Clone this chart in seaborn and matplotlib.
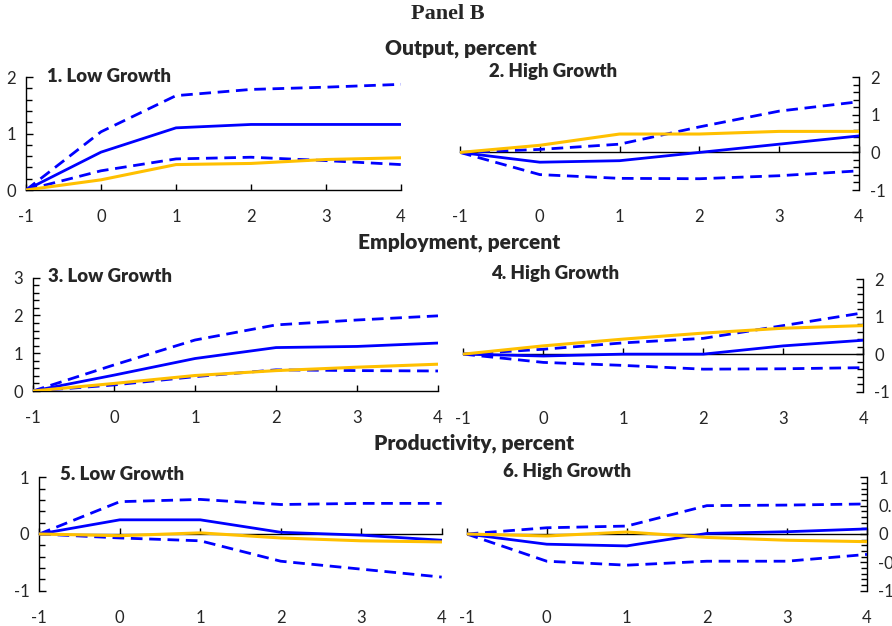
import matplotlib
matplotlib.use("Agg")
import matplotlib.pyplot as plt
import seaborn as sns
from matplotlib.ticker import MultipleLocator

# Horizon (years relative to the shock)
horizon = [-1, 0, 1, 2, 3, 4]
horizon_labels = ["-1", "0", "1", "2", "3", "4"]

# 1. Output, low growth
out_low_est = [0, 0.67, 1.10, 1.16, 1.16, 1.16]
out_low_hi = [0, 1.03, 1.67, 1.78, 1.82, 1.87]
out_low_lo = [0, 0.34, 0.55, 0.58, 0.52, 0.45]
out_low_ref = [0, 0.18, 0.45, 0.47, 0.54, 0.57]

# 2. Output, high growth
out_high_est = [0, -0.26, -0.22, 0.0, 0.22, 0.44]
out_high_hi = [0, 0.08, 0.22, 0.68, 1.10, 1.35]
out_high_lo = [0, -0.59, -0.69, -0.70, -0.62, -0.49]
out_high_ref = [0, 0.19, 0.49, 0.49, 0.56, 0.56]

# 3. Employment, low growth
emp_low_est = [0, 0.42, 0.86, 1.15, 1.18, 1.27]
emp_low_hi = [0, 0.69, 1.35, 1.75, 1.88, 1.99]
emp_low_lo = [0, 0.16, 0.38, 0.56, 0.54, 0.53]
emp_low_ref = [0, 0.20, 0.41, 0.54, 0.63, 0.71]

# 4. Employment, high growth
emp_high_est = [0, -0.05, 0.0, 0.0, 0.22, 0.37]
emp_high_hi = [0, 0.13, 0.30, 0.42, 0.76, 1.10]
emp_high_lo = [0, -0.22, -0.30, -0.40, -0.39, -0.36]
emp_high_ref = [0, 0.22, 0.40, 0.56, 0.69, 0.76]

# 5. Productivity, low growth
prod_low_est = [0, 0.25, 0.25, 0.03, -0.02, -0.11]
prod_low_hi = [0, 0.57, 0.61, 0.52, 0.54, 0.54]
prod_low_lo = [0, -0.07, -0.12, -0.48, -0.62, -0.76]
prod_low_ref = [0, -0.03, 0.02, -0.07, -0.12, -0.14]

# 6. Productivity, high growth
prod_high_est = [0, -0.18, -0.21, 0.01, 0.04, 0.09]
prod_high_hi = [0, 0.11, 0.14, 0.50, 0.51, 0.53]
prod_high_lo = [0, -0.48, -0.55, -0.48, -0.48, -0.36]
prod_high_ref = [0, -0.035, 0.035, -0.06, -0.11, -0.135]

# Y-axis ticks for each panel
ticks_1 = [0, 1, 2]
ticks_2 = [-1, 0, 1, 2]
ticks_3 = [0, 1, 2, 3]
ticks_4 = [-1, 0, 1, 2]
ticks_5 = [-1, 0, 1]
ticks_6 = [-1, -0.5, 0, 0.5, 1]
ticklabels_6 = ["-1", "-0.5", "0", "0.5", "1"]

sns.set_style("white")
plt.rcParams["font.family"] = ["Lato", "DejaVu Sans"]
plt.rcParams["axes.unicode_minus"] = False

BLUE = "#0000ff"
GOLD = "#ffc000"
W, H = 892, 626

fig = plt.figure(figsize=(W / 100, H / 100), dpi=100)


def px_axes(left, right, top, bottom):
    return fig.add_axes([left / W, 1 - bottom / H, (right - left) / W, (bottom - top) / H])


def panel(ax, est, hi, lo, ref, ylim, yticks, minor, side, ylabels=None):
    dash = (0, (4.2, 2.4))
    sns.lineplot(x=horizon, y=hi, ax=ax, color=BLUE, lw=2.0, linestyle=dash, zorder=3)
    sns.lineplot(x=horizon, y=lo, ax=ax, color=BLUE, lw=2.0, linestyle=dash, zorder=3)
    sns.lineplot(x=horizon, y=est, ax=ax, color=BLUE, lw=2.0, zorder=3)
    sns.lineplot(x=horizon, y=ref, ax=ax, color=GOLD, lw=2.2, zorder=3)
    ax.set_xlim(-1, 4)
    ax.set_ylim(*ylim)
    ax.set_xlabel("")
    ax.set_ylabel("")
    ax.patch.set_alpha(0)
    for s in ("top", "left", "right"):
        ax.spines[s].set_visible(False)
    ax.spines[side].set_visible(True)
    for s in ax.spines.values():
        s.set_color("black")
        s.set_linewidth(1.0)
        s.set_zorder(2)
    # horizontal axis line through zero, ticks pointing up
    ax.spines["bottom"].set_position(("data", 0))
    ax.set_xticks(horizon)
    ax.tick_params(axis="x", direction="in", length=4.5, width=1.0,
                   color="black", labelbottom=False, bottom=True)
    # tick labels sit at the bottom of the panel
    sec = ax.secondary_xaxis(0)
    sec.set_xticks(horizon, labels=horizon_labels)
    sec.spines["bottom"].set_visible(False)
    sec.tick_params(length=0, pad=14, labelsize=12)
    # vertical axis
    if ylabels is None:
        ax.set_yticks(yticks, labels=[str(t) for t in yticks])
    else:
        ax.set_yticks(yticks, labels=ylabels)
    ax.yaxis.set_minor_locator(MultipleLocator(minor))
    if side == "right":
        ax.yaxis.tick_right()
        ax.tick_params(axis="y", which="both", direction="in", color="black",
                       left=False, right=True, labelleft=False, labelright=True,
                       labelsize=12, pad=8)
    else:
        ax.tick_params(axis="y", which="both", direction="in", color="black",
                       left=True, right=False, labelsize=12, pad=7)
    ax.tick_params(axis="y", which="major", length=5, width=1.0)
    ax.tick_params(axis="y", which="minor", length=4, width=1.0)


ax1 = px_axes(26, 401, 77, 190)
panel(ax1, out_low_est, out_low_hi, out_low_lo, out_low_ref, (0, 2), ticks_1, 0.2, "left")
ax2 = px_axes(460, 859, 77.3, 190)
panel(ax2, out_high_est, out_high_hi, out_high_lo, out_high_ref, (-1, 2), ticks_2, 0.2, "right")
ax3 = px_axes(33, 438, 277.7, 391)
panel(ax3, emp_low_est, emp_low_hi, emp_low_lo, emp_low_ref, (0, 3), ticks_3, 0.2, "left")
ax4 = px_axes(463.3, 863.3, 279, 391.7)
panel(ax4, emp_high_est, emp_high_hi, emp_high_lo, emp_high_ref, (-1, 2), ticks_4, 0.2, "right")
ax5 = px_axes(39.3, 441.7, 477.3, 590.7)
panel(ax5, prod_low_est, prod_low_hi, prod_low_lo, prod_low_ref, (-1, 1), ticks_5, 0.2, "left")
ax6 = px_axes(466.7, 867, 477.3, 590.7)
panel(ax6, prod_high_est, prod_high_hi, prod_high_lo, prod_high_ref, (-1, 1), ticks_6, 0.1, "right",
      ylabels=ticklabels_6)


def label(x, y, s, **kw):
    fig.text(x / W, 1 - y / H, s, va="center", **kw)


label(448, 14, "Panel B", ha="center", family=["Liberation Serif"], fontweight="bold", fontsize=16)
label(461, 48, "Output, percent", ha="center", fontweight="heavy", fontsize=15)
label(459, 242, "Employment, percent", ha="center", fontweight="heavy", fontsize=15)
label(474, 443, "Productivity, percent", ha="center", fontweight="heavy", fontsize=15)
label(47, 76, "1. Low Growth", ha="left", fontweight="heavy", fontsize=13.4)
label(489, 72, "2. High Growth", ha="left", fontweight="heavy", fontsize=13.4)
label(47.7, 277, "3. Low Growth", ha="left", fontweight="heavy", fontsize=13.4)
label(491, 273, "4. High Growth", ha="left", fontweight="heavy", fontsize=13.4)
label(60, 475, "5. Low Growth", ha="left", fontweight="heavy", fontsize=13.4)
label(503, 471, "6. High Growth", ha="left", fontweight="heavy", fontsize=13.4)

fig.savefig("out.png", dpi=100)
